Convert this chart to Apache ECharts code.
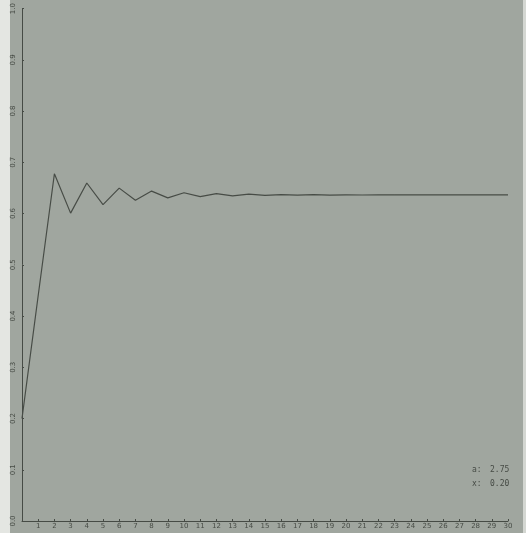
<!DOCTYPE html>
<html>
<head>
<meta charset="utf-8">
<script src="https://cdn.jsdelivr.net/npm/echarts@6/dist/echarts.min.js"></script>
<style>
  html, body { margin: 0; padding: 0; background: #ffffff; }
  #chart { width: 526px; height: 533px; }
</style>
</head>
<body>
<div id="chart"></div>
<script>
// Iteration steps shown along the bottom axis (step 0 sits on the value axis)
const steps = ['0', '1', '2', '3', '4', '5', '6', '7', '8', '9', '10',
  '11', '12', '13', '14', '15', '16', '17', '18', '19', '20',
  '21', '22', '23', '24', '25', '26', '27', '28', '29', '30'];

// Value of x at each step
const xValues = [0.2000, 0.4400, 0.6776, 0.6008, 0.6596, 0.6175, 0.6496, 0.6260,
  0.6438, 0.6306, 0.6406, 0.6331, 0.6388, 0.6346, 0.6377, 0.6354, 0.6371,
  0.6358, 0.6368, 0.6361, 0.6366, 0.6362, 0.6365, 0.6363, 0.6364, 0.6363,
  0.6364, 0.6363, 0.6364, 0.6364, 0.6364];

// Parameter readout in the lower right corner
const paramNames = ['a:', 'x:'];
const paramValues = ['2.75', '0.20'];

const ink = '#464b45';
const chart = echarts.init(document.getElementById('chart'), null, { renderer: 'canvas' });

const readout = [];
paramNames.forEach((name, i) => {
  readout.push({
    type: 'text', left: 472, top: 466 + i * 14,
    style: { text: name, fill: ink, font: '8px "DejaVu Sans Mono", monospace' }
  });
  readout.push({
    type: 'text', left: 490, top: 466 + i * 14,
    style: { text: paramValues[i], fill: ink, font: '8px "DejaVu Sans Mono", monospace' }
  });
});

chart.setOption({
  backgroundColor: '#a0a69f',
  animation: false,
  graphic: [
    { type: 'rect', left: 0, top: 0, shape: { width: 10, height: 533 },
      style: { fill: '#e4e6e2' }, z: -1 },
    { type: 'rect', left: 523, top: 0, shape: { width: 3, height: 533 },
      style: { fill: '#d4d7d2' }, z: -1 }
  ].concat(readout),
  grid: { left: 22, right: 18, top: 5, bottom: 12, containLabel: false },
  xAxis: {
    type: 'category',
    data: steps,
    boundaryGap: false,
    axisLine: { show: true, lineStyle: { color: ink, width: 1 } },
    axisTick: { show: true, length: 2, inside: true, lineStyle: { color: ink },
      interval: 0 },
    axisLabel: {
      interval: 0, margin: 2, color: ink, fontSize: 7,
      fontFamily: 'DejaVu Sans',
      formatter: v => (v === '0' ? '' : v)
    },
    splitLine: { show: false }
  },
  yAxis: {
    type: 'value',
    min: 0, max: 1, interval: 0.1,
    axisLine: { show: true, lineStyle: { color: ink, width: 1 } },
    axisTick: { show: true, length: 2, inside: true, lineStyle: { color: ink } },
    axisLabel: {
      rotate: 90, margin: 5, color: ink, fontSize: 7,
      fontFamily: 'DejaVu Sans',
      formatter: v => v.toFixed(1)
    },
    splitLine: { show: false }
  },
  series: [{
    type: 'line',
    data: xValues,
    symbol: 'none',
    lineStyle: { color: '#474c46', width: 1.2 }
  }]
});
</script>
</body>
</html>
